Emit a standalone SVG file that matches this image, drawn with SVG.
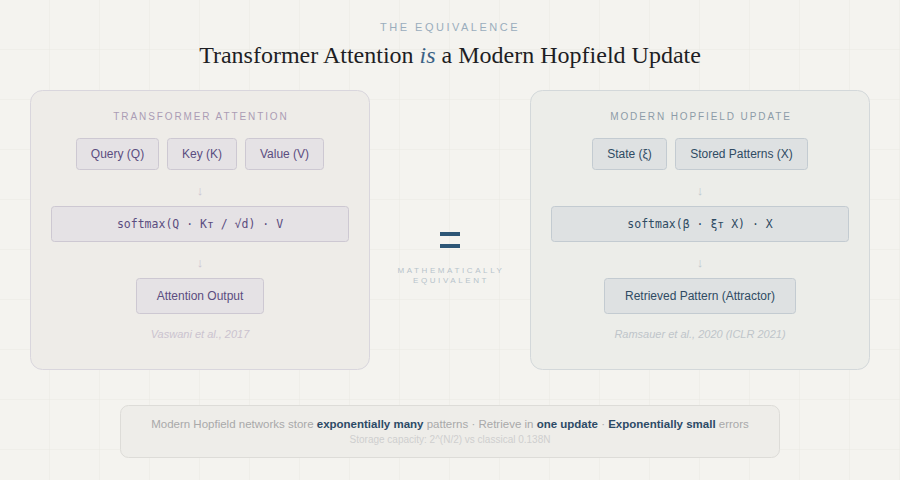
<svg xmlns="http://www.w3.org/2000/svg" width="900" height="480" viewBox="0 0 900 480">
<defs>
<pattern id="grid" width="50" height="50" patternUnits="userSpaceOnUse">
<path d="M50 0V50M0 50H50" fill="none" stroke="#eae8e3" stroke-width="1"/>
</pattern>
<style>
.sans{font-family:"Liberation Sans",Arial,sans-serif}
.mono{font-family:"DejaVu Sans Mono","Liberation Mono",monospace}
.ptitle{font-size:10px;letter-spacing:1.9px;text-anchor:middle}
.lbl{font-size:12px;text-anchor:middle}
.cite{font-size:11px;font-style:italic;text-anchor:middle}
.arr{font-size:13px;text-anchor:middle}
.lbox{fill:#e5e2e5;stroke:#cdc8d2}
.rbox{fill:#dee1e2;stroke:#c3cbd1}
.lt{fill:#5b4d80}
.rt{fill:#2f4b63}
</style>
</defs>
<rect width="900" height="480" fill="#f4f3ef"/>
<rect width="900" height="480" fill="url(#grid)"/>

<text x="450" y="31" class="sans" font-size="11" letter-spacing="2.5" text-anchor="middle" fill="#9aadbd">THE EQUIVALENCE</text>
<text x="450" y="63" font-family="'Liberation Serif','Times New Roman',serif" font-size="24" text-anchor="middle" fill="#1e1e24">Transformer Attention <tspan font-style="italic" fill="#3b6285">is</tspan> a Modern Hopfield Update</text>

<g id="left-panel">
<rect x="30.5" y="90.5" width="339" height="279" rx="12" fill="#eeece8" stroke="#d9d6dd"/>
<text x="201" y="120" class="sans ptitle" fill="#ab9cb5">TRANSFORMER ATTENTION</text>
</g>
<g id="query"><rect class="lbox" x="76.5" y="138.5" width="82" height="31" rx="3"/><text x="117.5" y="158" class="sans lbl lt">Query (Q)</text></g>
<g id="key"><rect class="lbox" x="167.5" y="138.5" width="69" height="31" rx="3"/><text x="202" y="158" class="sans lbl lt">Key (K)</text></g>
<g id="value"><rect class="lbox" x="245.5" y="138.5" width="78" height="31" rx="3"/><text x="284.5" y="158" class="sans lbl lt">Value (V)</text></g>
<g id="attn-formula"><rect class="lbox" x="51.5" y="206.5" width="297" height="35" rx="3"/><text x="200" y="228" class="mono lt" font-size="11.5" text-anchor="middle">softmax(Q · Kᴛ / √d) · V</text></g>
<g id="attn-output"><rect class="lbox" x="136.5" y="278.5" width="127" height="35" rx="3"/><text x="200" y="300" class="sans lbl lt">Attention Output</text></g>
<text x="200" y="338" class="sans cite" fill="#cbc3cf">Vaswani et al., 2017</text>

<g id="right-panel">
<rect x="530.5" y="90.5" width="339" height="279" rx="12" fill="#ecede9" stroke="#d3d8da"/>
<text x="701" y="120" class="sans ptitle" fill="#8d9ca8">MODERN HOPFIELD UPDATE</text>
</g>
<g id="state"><rect class="rbox" x="592.5" y="138.5" width="74" height="31" rx="3"/><text x="629.5" y="158" class="sans lbl rt">State (ξ)</text></g>
<g id="stored"><rect class="rbox" x="675.5" y="138.5" width="132" height="31" rx="3"/><text x="741.5" y="158" class="sans lbl rt">Stored Patterns (X)</text></g>
<g id="hop-formula"><rect class="rbox" x="551.5" y="206.5" width="297" height="35" rx="3"/><text x="700" y="228" class="mono rt" font-size="11.5" text-anchor="middle">softmax(β · ξᴛ X) · X</text></g>
<g id="retrieved"><rect class="rbox" x="604.5" y="278.5" width="191" height="35" rx="3"/><text x="700" y="300" class="sans lbl rt">Retrieved Pattern (Attractor)</text></g>
<text x="700" y="338" class="sans cite" fill="#bfc5ca">Ramsauer et al., 2020 (ICLR 2021)</text>

<g id="connectors">
<text x="200" y="195" class="sans arr" fill="#cbc4d2">↓</text>
<text x="200" y="267" class="sans arr" fill="#cbc4d2">↓</text>
<text x="700" y="195" class="sans arr" fill="#bfc8d0">↓</text>
<text x="700" y="267" class="sans arr" fill="#bfc8d0">↓</text>
</g>

<g id="equals">
<rect x="440" y="232" width="20" height="4" fill="#2d5676"/>
<rect x="440" y="244" width="20" height="4" fill="#2d5676"/>
<text x="451" y="273" class="sans" font-size="8" letter-spacing="2.6" text-anchor="middle" fill="#b7c3cb">MATHEMATICALLY</text>
<text x="451" y="283" class="sans" font-size="8" letter-spacing="2.6" text-anchor="middle" fill="#b7c3cb">EQUIVALENT</text>
</g>

<g id="summary">
<rect x="120.5" y="405.5" width="659" height="52" rx="8" fill="#eeede9" stroke="#dddcd8"/>
<text x="450" y="428" class="sans" font-size="11.5" text-anchor="middle" fill="#a9a9a9">Modern Hopfield networks store <tspan font-weight="bold" fill="#2c4a66">exponentially many</tspan> patterns · Retrieve in <tspan font-weight="bold" fill="#2c4a66">one update</tspan> · <tspan font-weight="bold" fill="#2c4a66">Exponentially small</tspan> errors</text>
<text x="450" y="443" class="sans" font-size="10" text-anchor="middle" fill="#cfcfcf">Storage capacity: 2^(N/2) vs classical 0.138N</text>
</g>
</svg>
